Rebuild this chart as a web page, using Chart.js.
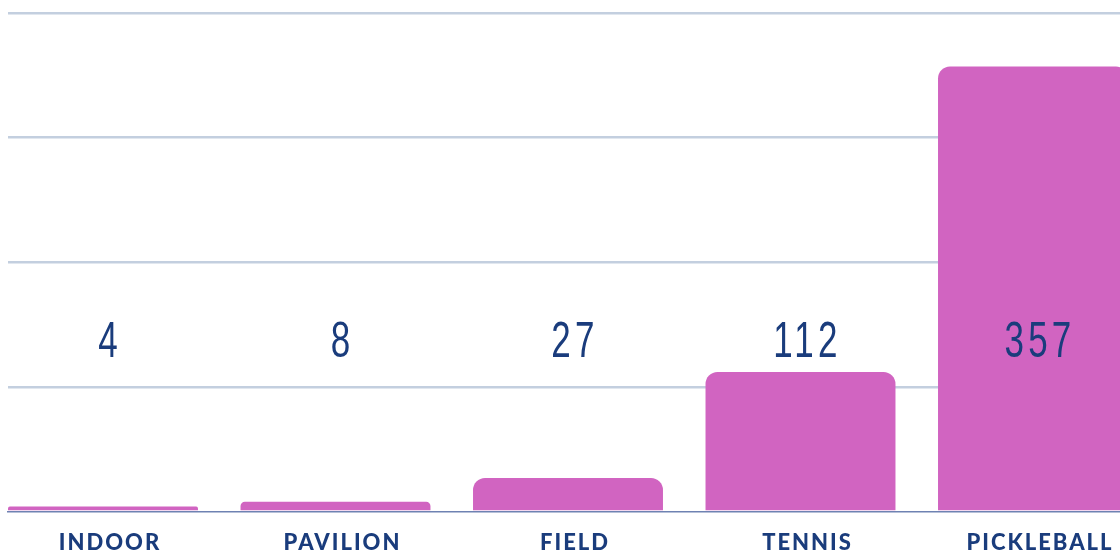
<!DOCTYPE html>
<html>
<head>
<meta charset="utf-8">
<script src="https://cdn.jsdelivr.net/npm/chart.js@4/dist/chart.umd.min.js"></script>
<style>
  html, body { margin: 0; padding: 0; background: #ffffff; overflow: hidden; }
  #wrap { position: relative; width: 1120px; height: 574px; }
</style>
</head>
<body>
<div id="wrap"><canvas id="courtChart"></canvas></div>
<script>
// Data
const categories = ['INDOOR', 'PAVILION', 'FIELD', 'TENNIS', 'PICKLEBALL'];
const counts = [4, 8, 27, 112, 357];
const yTicks = [0, 100, 200, 300, 400];

// Colours
const barColor = '#d164c1';
const navy = '#1a3c7c';
const gridColor = '#c3cfdf';
const baseColor = '#6e82b2';

// value labels sit on a fixed level, not on the bar tops
const valueLabelLevel = 124;
const labelShift = 7;

const valueLabels = {
    id: 'valueLabels',
    beforeDraw(chart) {
        chart.ctx.letterSpacing = '2px';
    },
    afterDatasetsDraw(chart) {
        const ctx = chart.ctx;
        const y = chart.scales.y.getPixelForValue(valueLabelLevel);
        const bars = chart.getDatasetMeta(0).data;
        ctx.save();
        ctx.letterSpacing = '6px';
        ctx.font = '50px "Liberation Sans", Arial, sans-serif';
        ctx.fillStyle = navy;
        ctx.textAlign = 'center';
        ctx.textBaseline = 'alphabetic';
        bars.forEach((bar, i) => {
            // squeeze horizontally to get the tall condensed numerals
            ctx.save();
            ctx.translate(bar.x + labelShift, y);
            ctx.scale(0.7, 1);
            ctx.fillText(String(counts[i]), 0, 0);
            ctx.restore();
        });
        ctx.restore();
    }
};

const ctx = document.getElementById('courtChart').getContext('2d');
new Chart(ctx, {
    type: 'bar',
    data: {
        datasets: [{
            data: counts.map((v, i) => ({ x: i, y: v })),
            backgroundColor: barColor,
            borderWidth: 0,
            borderRadius: 12,
            borderSkipped: 'start',
            barPercentage: 0.817,
            categoryPercentage: 1
        }]
    },
    options: {
        responsive: true,
        maintainAspectRatio: false,
        animation: false,
        layout: { padding: { top: 13, left: 8, right: 0, bottom: 0 } },
        plugins: {
            legend: { display: false },
            tooltip: { enabled: false }
        },
        scales: {
            x: {
                type: 'linear',
                offset: false,
                min: -0.4086,
                max: 4.3742,
                grid: { display: false, drawTicks: false },
                border: { display: true, color: baseColor, width: 1.5 },
                ticks: {
                    stepSize: 1,
                    includeBounds: false,
                    autoSkip: false,
                    maxRotation: 0,
                    padding: 18,
                    labelOffset: labelShift,
                    color: navy,
                    font: { family: 'Lato', size: 22, weight: '900' },
                    callback: (v) => categories[v] ?? ''
                }
            },
            y: {
                min: yTicks[0],
                max: yTicks[yTicks.length - 1],
                border: { display: false },
                grid: {
                    drawTicks: false,
                    lineWidth: 2.5,
                    color: (c) => (c.tick && c.tick.value === 0 ? 'rgba(0,0,0,0)' : gridColor)
                },
                ticks: { display: false, stepSize: 100 }
            }
        }
    },
    plugins: [valueLabels]
});
</script>
</body>
</html>
